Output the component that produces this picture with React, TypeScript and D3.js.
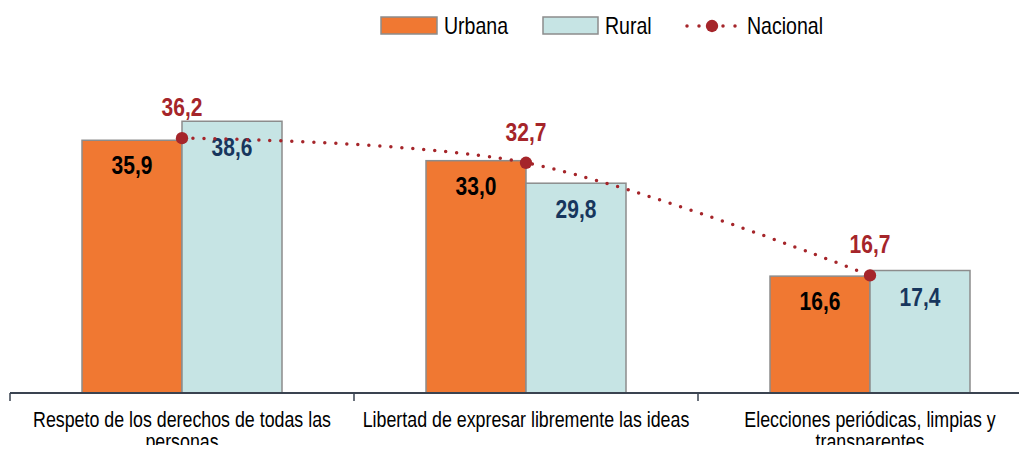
import { useEffect, useRef } from 'react';
import * as d3 from 'd3';

const categories = [
  ['Respeto de los derechos de todas las', 'personas'],
  ['Libertad de expresar libremente las ideas'],
  ['Elecciones periódicas, limpias y', 'transparentes'],
];
const urbana = [35.9, 33.0, 16.6];
const rural = [38.6, 29.8, 17.4];
const nacional = [36.2, 32.7, 16.7];

const ORANGE = '#F07832';
const LIGHT = '#C6E4E4';
const RED = '#A5252A';
const NAVY = '#17365D';
const FONT = '"Liberation Sans", Arial, sans-serif';

const fmt = (v: number) => v.toFixed(1).replace('.', ',');
// condensed look: squeeze text horizontally
const squeeze = (x: number, y: number, k = 0.82) => `translate(${x},${y}) scale(${k},1)`;

const App = () => {
  const ref = useRef<SVGSVGElement>(null);

  useEffect(() => {
    if (!ref.current) return;
    const svg = d3.select(ref.current);
    svg.selectAll('*').remove();

    const width = 1027;
    const baseY = 393;

    const idx = categories.map((_, i) => i);
    const x = d3.scaleBand<number>().domain(idx).range([10, 1042]);
    const y = d3.scaleLinear().domain([0, 50]).range([baseY, baseY - 352]);
    const barW = 100;
    const center = (i: number) => (x(i) as number) + x.bandwidth() / 2;

    // Bars
    const g = svg.append('g');
    g.selectAll('rect.urb')
      .data(urbana)
      .enter()
      .append('rect')
      .attr('class', 'urb')
      .attr('x', (_, i) => center(i) - barW)
      .attr('y', d => y(d))
      .attr('width', barW)
      .attr('height', d => baseY - y(d))
      .attr('fill', ORANGE)
      .attr('stroke', '#8C8C8C')
      .attr('stroke-width', 1.5);
    g.selectAll('rect.rur')
      .data(rural)
      .enter()
      .append('rect')
      .attr('class', 'rur')
      .attr('x', (_, i) => center(i))
      .attr('y', d => y(d))
      .attr('width', barW)
      .attr('height', d => baseY - y(d))
      .attr('fill', LIGHT)
      .attr('stroke', '#8C8C8C')
      .attr('stroke-width', 1.5);

    // Bar labels
    g.selectAll('text.urb')
      .data(urbana)
      .enter()
      .append('text')
      .attr('transform', (d, i) => squeeze(center(i) - barW / 2, y(d) + 34, 0.84))
      .attr('text-anchor', 'middle')
      .style('font-family', FONT)
      .style('font-size', '25px')
      .style('font-weight', 'bold')
      .attr('fill', '#000')
      .text(d => fmt(d));
    g.selectAll('text.rur')
      .data(rural)
      .enter()
      .append('text')
      .attr('transform', (d, i) => squeeze(center(i) + barW / 2, y(d) + 35, 0.84))
      .attr('text-anchor', 'middle')
      .style('font-family', FONT)
      .style('font-size', '25px')
      .style('font-weight', 'bold')
      .attr('fill', NAVY)
      .text(d => fmt(d));

    // Axis
    svg.append('line')
      .attr('x1', 10).attr('x2', width)
      .attr('y1', baseY).attr('y2', baseY)
      .attr('stroke', '#3A4350').attr('stroke-width', 2);
    idx.forEach(i => {
      svg.append('line')
        .attr('x1', x(i) as number).attr('x2', x(i) as number)
        .attr('y1', baseY).attr('y2', baseY + 8)
        .attr('stroke', '#3A4350').attr('stroke-width', 1.5);
    });
    categories.forEach((lines, i) => {
      lines.forEach((ln, j) => {
        svg.append('text')
          .attr('transform', squeeze(center(i), 427 + j * 22, 0.81))
          .attr('text-anchor', 'middle')
          .style('font-family', FONT)
          .style('font-size', '22px')
          .attr('fill', '#000')
          .text(ln);
      });
    });

    // Nacional line
    const line = d3.line<number>()
      .x((_, i) => center(i))
      .y(d => y(d))
      .curve(d3.curveCatmullRom.alpha(0.5));
    svg.append('path')
      .attr('d', line(nacional))
      .attr('fill', 'none')
      .attr('stroke', RED)
      .attr('stroke-width', 3.5)
      .attr('stroke-linecap', 'round')
      .attr('stroke-dasharray', '0 11');
    const star = d3.symbol().type(d3.symbolCircle).size(120);
    svg.selectAll('path.mk')
      .data(nacional)
      .enter()
      .append('path')
      .attr('class', 'mk')
      .attr('d', star)
      .attr('transform', (d, i) => `translate(${center(i)},${y(d)})`)
      .attr('fill', RED);
    svg.selectAll('text.nac')
      .data(nacional)
      .enter()
      .append('text')
      .attr('transform', (d, i) => squeeze(center(i), y(d) - 22, 0.84))
      .attr('text-anchor', 'middle')
      .style('font-family', FONT)
      .style('font-size', '25px')
      .style('font-weight', 'bold')
      .attr('fill', RED)
      .text(d => fmt(d));

    // Legend
    const lg = svg.append('g').style('font-family', FONT).style('font-size', '23px');
    lg.append('rect').attr('x', 381).attr('y', 17).attr('width', 56).attr('height', 17)
      .attr('fill', ORANGE).attr('stroke', '#8C8C8C').attr('stroke-width', 1.5);
    lg.append('text').attr('transform', squeeze(444, 34, 0.85)).text('Urbana');
    lg.append('rect').attr('x', 543).attr('y', 17).attr('width', 55).attr('height', 17)
      .attr('fill', LIGHT).attr('stroke', '#8C8C8C').attr('stroke-width', 1.5);
    lg.append('text').attr('transform', squeeze(605, 34, 0.85)).text('Rural');
    lg.append('line').attr('x1', 687).attr('x2', 736).attr('y1', 26).attr('y2', 26)
      .attr('stroke', RED).attr('stroke-width', 3.5).attr('stroke-linecap', 'round')
      .attr('stroke-dasharray', '0 12');
    lg.append('path').attr('d', star).attr('transform', 'translate(712,26)').attr('fill', RED);
    lg.append('text').attr('transform', squeeze(747, 34, 0.85)).text('Nacional');
  }, []);

  return (
    <div style={{ width: 1027, height: 453, margin: -8 }}>
      <svg ref={ref} width={1027} height={453} style={{ display: 'block' }} />
    </div>
  );
};

export default App;
